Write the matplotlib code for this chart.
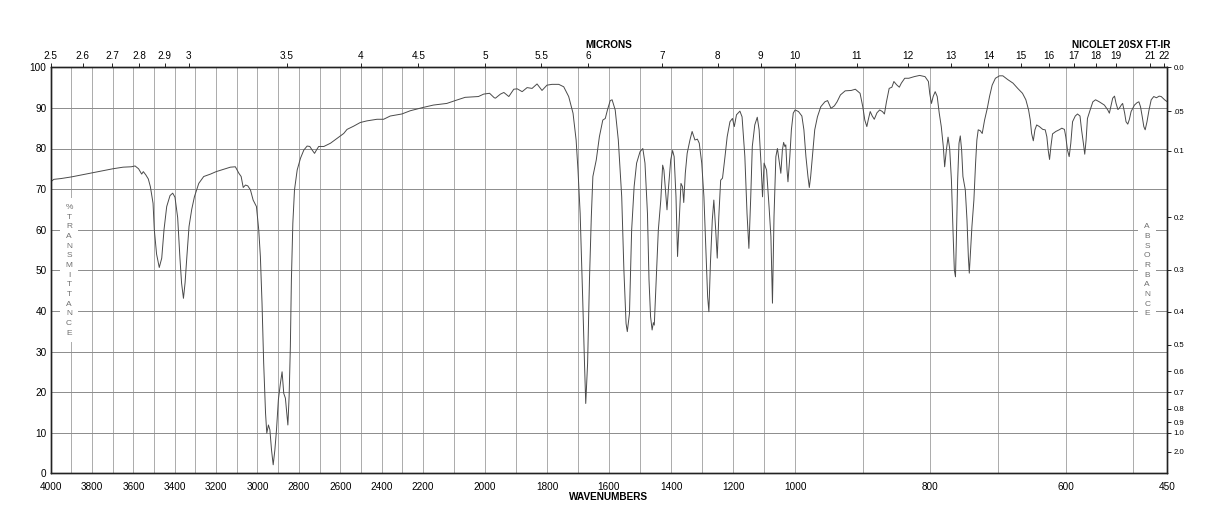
import matplotlib.pyplot as plt
import numpy as np

plt.rcParams['font.family'] = ['Liberation Sans', 'DejaVu Sans']

# spectrum (cm-1, %T)
wavenumber = [
    4000, 3985, 3950, 3900, 3850, 3800, 3750, 3700, 3650, 3610, 3592, 3575,
    3560, 3552, 3540, 3528, 3518, 3505, 3499, 3488, 3475, 3463, 3452, 3439,
    3423, 3410, 3399, 3386, 3375, 3367, 3358, 3350, 3342, 3331, 3318, 3305,
    3284, 3260, 3227, 3200, 3163, 3131, 3107, 3090, 3079, 3069, 3058, 3047,
    3034, 3021, 3005, 2994, 2986, 2978, 2970, 2961, 2955, 2947, 2940, 2932,
    2924, 2916, 2908, 2899, 2889, 2881, 2873, 2865, 2853, 2847, 2841, 2836,
    2829, 2821, 2808, 2792, 2776, 2760, 2747, 2734, 2724, 2715, 2704, 2679,
    2647, 2615, 2583, 2567, 2535, 2503, 2471, 2422, 2390, 2358, 2302, 2261,
    2200, 2166, 2123, 2096, 2064, 2021, 2004, 1985, 1970, 1966, 1950, 1939,
    1923, 1907, 1896, 1880, 1864, 1848, 1832, 1816, 1800, 1784, 1762, 1746,
    1730, 1716, 1706, 1700, 1693, 1685, 1679, 1675, 1669, 1663, 1657, 1652,
    1641, 1631, 1620, 1612, 1605, 1596, 1590, 1580, 1570, 1559, 1552, 1545,
    1541, 1534, 1527, 1519, 1511, 1500, 1491, 1484, 1476, 1471, 1466, 1461,
    1457, 1454, 1448, 1441, 1433, 1427, 1423, 1417, 1413, 1408, 1401, 1395,
    1390, 1384, 1379, 1373, 1368, 1363, 1359, 1354, 1348, 1339, 1332, 1323,
    1315, 1309, 1301, 1294, 1288, 1282, 1278, 1273, 1267, 1262, 1256, 1251,
    1246, 1240, 1234, 1226, 1219, 1210, 1202, 1196, 1189, 1178, 1171, 1162,
    1155, 1149, 1143, 1138, 1130, 1122, 1116, 1110, 1105, 1100, 1092, 1084,
    1078, 1073, 1068, 1062, 1057, 1052, 1046, 1041, 1037, 1033, 1030, 1026,
    1023, 1017, 1012, 1006, 1000, 995, 990, 987, 984, 981, 979, 977,
    974, 971, 967, 962, 956, 952, 947, 942, 938, 933, 926, 917,
    911, 904, 900, 897, 894, 892, 889, 886, 883, 879, 875, 871,
    868, 865, 861, 857, 854, 850, 846, 843, 838, 832, 824, 816,
    808, 803, 801, 798.5, 796, 793, 790, 787, 784, 781, 779, 776.5,
    774, 771.6, 769, 766.7, 764.7, 763, 761.8, 759.8, 757.8, 755.9, 753.9, 752,
    748.5, 746, 744, 742.6, 740.7, 738.7, 735.8, 733.3, 731.4, 729.4, 726.5, 723.5,
    720, 716, 712.7, 708.8, 704, 698, 693, 686, 678, 671, 664, 659,
    655, 652.5, 650.5, 648, 645.6, 643, 639, 634, 630.4, 628, 626, 624,
    622, 619.6, 614.7, 609.8, 605.9, 602, 600, 597.5, 595, 592.6, 590, 586,
    582.7, 579, 576.7, 574, 572, 570, 568, 564, 560, 556, 550.5, 543,
    538, 535.6, 533, 530.7, 528, 525.7, 523, 521, 518, 516, 513, 511,
    508.4, 506, 503.5, 498.5, 494.6, 492, 489.6, 487, 484.7, 482.7, 480, 477,
    473.8, 470, 466, 462, 459, 454, 450,
]
transmittance = [
    71.8, 72.4, 72.6, 73.0, 73.5, 74.0, 74.5, 75.0, 75.4, 75.5, 75.7, 75.0,
    73.7, 74.3, 73.5, 72.5, 70.6, 66.5, 60.0, 54.0, 50.7, 53.0, 60.0, 65.7,
    68.4, 69.0, 68.0, 63.0, 53.0, 46.8, 43.1, 47.0, 53.0, 60.8, 65.0, 68.1,
    71.4, 73.1, 73.7, 74.3, 74.9, 75.4, 75.5, 73.9, 73.1, 70.4, 71.0, 70.8,
    69.8, 67.3, 65.7, 60.0, 53.4, 41.9, 27.1, 14.8, 9.9, 11.9, 10.7, 5.7,
    2.1, 5.7, 10.7, 18.1, 22.2, 25.0, 19.7, 18.5, 11.9, 18.9, 31.2, 47.6,
    61.6, 69.8, 74.7, 77.6, 79.6, 80.6, 80.5, 79.5, 78.8, 79.6, 80.5, 80.5,
    81.3, 82.5, 83.7, 84.7, 85.5, 86.4, 86.8, 87.2, 87.2, 88.0, 88.5, 89.3,
    90.1, 90.7, 91.1, 91.8, 92.6, 92.8, 93.4, 93.6, 92.5, 92.4, 93.4, 93.8,
    92.8, 94.6, 94.7, 94.0, 95.0, 94.8, 95.9, 94.3, 95.6, 95.8, 95.8, 95.2,
    92.8, 88.7, 82.1, 74.7, 64.0, 43.5, 27.1, 17.2, 27.1, 47.6, 63.2, 73.1,
    77.2, 82.9, 87.0, 87.4, 89.5, 91.8, 92.0, 89.5, 82.1, 68.1, 50.1, 36.9,
    34.9, 39.4, 59.9, 70.6, 76.4, 79.2, 80.0, 76.4, 64.0, 47.6, 38.6, 35.3,
    37.1, 36.5, 47.6, 59.9, 67.3, 75.9, 74.7, 69.0, 64.9, 70.5, 77.2, 79.5,
    78.0, 68.1, 53.4, 63.2, 71.4, 70.6, 66.7, 73.9, 78.8, 82.1, 84.2, 82.1,
    82.3, 81.3, 76.4, 68.1, 55.8, 43.5, 39.8, 51.7, 62.4, 67.3, 59.9, 53.0,
    63.2, 72.2, 72.7, 78.0, 82.9, 86.6, 87.4, 85.4, 88.3, 89.2, 87.8, 78.0,
    64.0, 55.4, 68.1, 80.5, 85.8, 87.7, 84.6, 76.4, 68.1, 76.4, 74.7, 65.7,
    58.3, 41.9, 63.2, 78.0, 80.0, 77.2, 73.9, 79.6, 81.5, 80.5, 80.9, 74.7,
    71.8, 78.0, 84.6, 88.7, 89.5, 89.1, 88.0, 84.6, 78.0, 73.1, 70.4, 73.1,
    78.8, 84.6, 87.8, 90.3, 91.5, 91.8, 89.9, 90.5, 91.5, 93.2, 94.2, 94.3,
    94.6, 93.6, 90.3, 87.0, 85.4, 87.0, 89.1, 88.0, 87.2, 88.8, 89.5, 89.1,
    88.5, 91.5, 94.8, 95.1, 96.5, 95.7, 95.1, 96.1, 97.3, 97.3, 97.7, 98.0,
    97.7, 96.5, 93.5, 91.1, 92.8, 94.0, 92.8, 88.7, 85.4, 80.5, 75.5, 79.6,
    82.8, 80.0, 72.2, 59.9, 50.1, 48.4, 56.7, 72.2, 81.3, 83.1, 79.6, 73.1,
    69.8, 62.4, 53.4, 49.3, 55.0, 60.8, 67.3, 76.4, 82.1, 84.6, 84.4, 83.7,
    87.0, 89.9, 92.8, 95.6, 97.3, 97.9, 97.9, 97.0, 96.1, 94.8, 93.6, 92.0,
    89.5, 87.0, 83.7, 81.9, 84.6, 85.8, 85.4, 84.7, 84.6, 82.9, 79.6, 77.3,
    80.5, 83.6, 84.2, 84.6, 85.0, 84.7, 82.9, 79.6, 78.0, 81.3, 86.6, 88.0,
    88.5, 88.0, 84.6, 81.3, 78.6, 82.1, 87.4, 89.5, 91.5, 92.0, 91.5, 90.7,
    89.5, 88.7, 90.7, 92.4, 92.9, 91.1, 89.6, 89.9, 90.7, 91.1, 88.7, 86.6,
    86.0, 87.2, 89.1, 90.7, 91.3, 91.5, 90.3, 87.8, 85.4, 84.6, 86.6, 89.5,
    92.0, 92.8, 92.5, 92.9, 92.8, 92.0, 91.5,
]

wavenumber_ticks = [4000, 3800, 3600, 3400, 3200, 3000, 2800, 2600, 2400, 2200,
                    2000, 1800, 1600, 1400, 1200, 1000, 800, 600, 450]
micron_ticks = [2.5, 2.6, 2.7, 2.8, 2.9, 3, 3.5, 4, 4.5, 5, 5.5, 6, 7, 8, 9,
                10, 11, 12, 13, 14, 15, 16, 17, 18, 19, 21, 22]
percent_ticks = [0, 10, 20, 30, 40, 50, 60, 70, 80, 90, 100]
absorbance_labels = ['0.0', '.05', '0.1', '0.2', '0.3', '0.4', '0.5', '0.6',
                     '0.7', '0.8', '0.9', '1.0', '2.0']
absorbance_values = [0.0, 0.05, 0.1, 0.2, 0.3, 0.4, 0.5, 0.6, 0.7, 0.8, 0.9, 1.0]


# three equal panels: 450-1000, 1000-2200, 2200-4000 (increasing in w,
# the axis is then flipped with xlim(4000, 450))
def fwd(w):
    w = np.asarray(w, dtype=float)
    return np.where(w >= 2200, 2 + (w - 2200) / 1800,
                    np.where(w >= 1000, 1 + (w - 1000) / 1200,
                             (w - 450) / 550))


def inv(u):
    u = np.asarray(u, dtype=float)
    return np.where(u >= 2, 2200 + 1800 * (u - 2),
                    np.where(u >= 1, 1000 + 1200 * (u - 1),
                             450 + 550 * u))


fig = plt.figure(figsize=(12.18, 5.28), dpi=100)
ax = fig.add_axes([50.7 / 1218, 1 - 473.3 / 528, 1116.6 / 1218, 406 / 528])
ax.set_xscale('function', functions=(fwd, inv))
ax.set_xlim(4000, 450)
ax.set_ylim(0, 100)

for w in range(3900, 499, -100):
    ax.axvline(w, color='#ababab', lw=0.7, zorder=0)
for t in percent_ticks[1:-1]:
    ax.axhline(t, color='#8c8c8c', lw=0.7, zorder=0)

ax.plot(wavenumber, transmittance, color='#4a4a4a', lw=0.7, zorder=3)

ax.set_xticks(wavenumber_ticks, labels=[str(w) for w in wavenumber_ticks])
ax.set_yticks(percent_ticks, labels=[str(t) for t in percent_ticks])
ax.tick_params(axis='x', length=0, labelsize=7.2, pad=6)
ax.tick_params(axis='y', length=0, labelsize=7.2, pad=3)

top = ax.twiny()
top.set_xscale('function', functions=(fwd, inv))
top.set_xlim(4000, 450)
top.set_xticks([10000 / m for m in micron_ticks],
               labels=[f'{m:g}' for m in micron_ticks])
top.tick_params(axis='x', direction='out', length=3, width=0.6,
                labelsize=7.2, pad=1.5)

right = ax.twinx()
right.set_ylim(0, 100)
absorbance_pos = [100 * 10 ** -a for a in absorbance_values] + [5.3]
right.set_yticks(absorbance_pos, labels=absorbance_labels)
right.tick_params(axis='y', direction='out', length=3, width=0.6,
                  labelsize=5.6, pad=1.5)

for a in (ax, top, right):
    for s in a.spines.values():
        s.set_linewidth(0.9)
        s.set_color('#222222')

side = dict(fontsize=6, color='#707070', ha='center', va='center',
            linespacing=1.53, transform=ax.transAxes,
            bbox=dict(facecolor='white', edgecolor='none', pad=4))
ax.text(0.0165, 0.5, '\n'.join('%TRANSMITTANCE'), zorder=4, **side)
ax.text(0.982, 0.5, '\n'.join('ABSORBANCE'), zorder=4, **side)

fig.text(0.5, 1 - 45 / 528, 'MICRONS', ha='center', va='center',
         fontsize=7.2, fontweight='bold')
fig.text(1170 / 1218, 1 - 45 / 528, 'NICOLET 20SX FT-IR', ha='right',
         va='center', fontsize=7.2, fontweight='bold')
fig.text(0.5, 1 - 496.7 / 528, 'WAVENUMBERS', ha='center', va='center',
         fontsize=7.2, fontweight='bold')

fig.savefig('out.png', dpi=100)
